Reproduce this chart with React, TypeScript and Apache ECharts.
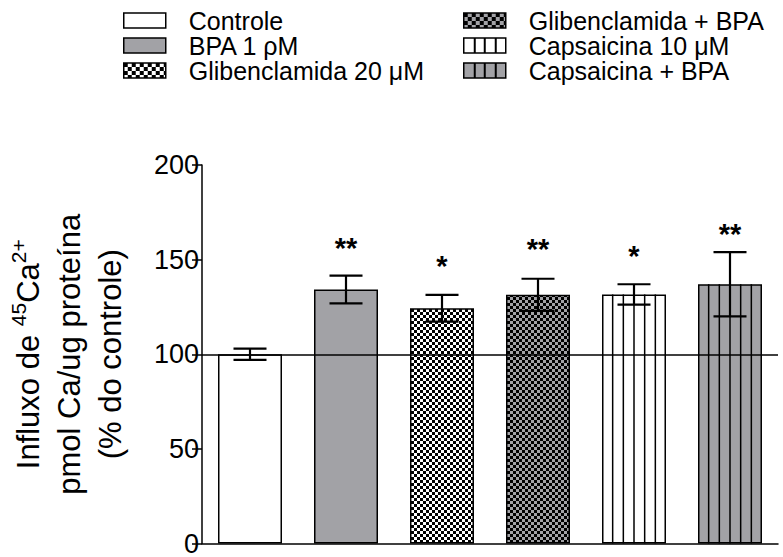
import React, { useEffect, useRef } from "react";
import * as echarts from "echarts";

// ---- data ----
const categories = [
  "Controle",
  "BPA 1 ρM",
  "Glibenclamida 20 μM",
  "Glibenclamida + BPA",
  "Capsaicina 10 μM",
  "Capsaicina + BPA",
];
const means = [100, 134.2, 124.3, 131.4, 131.6, 137];
const errors = [3, 7.3, 7.1, 8.5, 5.4, 17];
const significance = ["", "**", "*", "**", "*", "**"];
const sigLevels = [0, 160, 150.5, 159.5, 155.5, 167.5];
const yMin = 0;
const yMax = 200;
const yInterval = 50;
const referenceValue = 100;

const FONT = '"Liberation Sans", Arial, Helvetica, sans-serif';
const GRAY = "#a2a2a6";

function makeCanvas(w: number, h: number, draw: (ctx: CanvasRenderingContext2D) => void) {
  const c = document.createElement("canvas");
  c.width = w;
  c.height = h;
  const ctx = c.getContext("2d")!;
  draw(ctx);
  return c;
}

function checker(a: string, b: string, cell: number) {
  const c = makeCanvas(cell * 2, cell * 2, (ctx) => {
    ctx.fillStyle = a;
    ctx.fillRect(0, 0, cell * 2, cell * 2);
    ctx.fillStyle = b;
    ctx.fillRect(0, 0, cell, cell);
    ctx.fillRect(cell, cell, cell, cell);
  });
  return { image: c, repeat: "repeat", imageWidth: cell * 2, imageHeight: cell * 2 } as any;
}

function legendStripes(bg: string, w: number, n: number) {
  const c = makeCanvas(w, 4, (ctx) => {
    ctx.fillStyle = bg;
    ctx.fillRect(0, 0, w, 4);
    ctx.fillStyle = "#000";
    for (let k = 1; k < n; k++) {
      const x = Math.round((k * w) / n);
      ctx.fillRect(x - 1, 0, 2, 4);
    }
  });
  return { image: c, repeat: "repeat", imageWidth: w, imageHeight: 4 } as any;
}

export default function App() {
  const ref = useRef<HTMLDivElement>(null);

  useEffect(() => {
    if (!ref.current) return;
    const chart = echarts.init(ref.current, undefined, { renderer: "svg" });

    const barFills: any[] = [
      "#ffffff",
      GRAY,
      checker("#ffffff", "#000000", 3),
      checker(GRAY, "#000000", 3),
      "#ffffff",
      GRAY,
    ];
    const legendFills: any[] = [
      "#ffffff",
      GRAY,
      checker("#ffffff", "#000000", 4),
      checker(GRAY, "#000000", 4),
      legendStripes("#ffffff", 42, 4),
      legendStripes(GRAY, 42, 4),
    ];
    const striped = [false, false, false, false, true, true];
    const BAR_W = 64;

    const legendBase = {
      orient: "vertical",
      top: 8,
      padding: 0,
      itemWidth: 42,
      itemHeight: 15,
      itemGap: 0,
      icon: "rect",
      selectedMode: false,
      itemStyle: { borderColor: "#000", borderWidth: 1.5 },
      textStyle: {
        fontSize: 25,
        lineHeight: 25,
        color: "#000",
        fontFamily: FONT,
        padding: [0, 0, 0, 18],
      },
    };

    const barSeries = categories.map((name, i) => ({
      type: "bar",
      name,
      stack: "all",
      barWidth: BAR_W,
      data: means.map((v, j) => (j === i ? v : "-")),
      itemStyle: { color: barFills[i], borderColor: "#000", borderWidth: 1.5 },
      z: 2,
      ...(i === 0
        ? {
            markLine: {
              silent: true,
              symbol: ["none", "none"],
              label: { show: false },
              lineStyle: { color: "#000", width: 1.5, type: "solid" },
              data: [{ yAxis: referenceValue }],
            },
          }
        : {}),
    }));

    const overlay = {
      type: "custom",
      name: "overlay",
      z: 5,
      data: means.map((m, i) => [i, m, errors[i], sigLevels[i]]),
      renderItem: (params: any, api: any) => {
        const i = api.value(0);
        const m = api.value(1);
        const e = api.value(2);
        const s = api.value(3);
        const [cx, yTop] = api.coord([i, m]);
        const y0 = api.coord([i, 0])[1];
        const yHi = api.coord([i, m + e])[1];
        const yLo = api.coord([i, m - e])[1];
        const children: any[] = [];
        const stroke = { stroke: "#000", lineWidth: 1.5 };
        if (striped[i]) {
          for (let k = 1; k < 6; k++) {
            const x = cx - BAR_W / 2 + (k * BAR_W) / 6;
            children.push({ type: "line", shape: { x1: x, y1: yTop, x2: x, y2: y0 }, style: stroke });
          }
        }
        const eb = { stroke: "#000", lineWidth: 2.2 };
        const cap = 16.5;
        children.push({ type: "line", shape: { x1: cx, y1: yLo, x2: cx, y2: yHi }, style: eb });
        children.push({ type: "line", shape: { x1: cx - cap, y1: yHi, x2: cx + cap, y2: yHi }, style: eb });
        children.push({ type: "line", shape: { x1: cx - cap, y1: yLo, x2: cx + cap, y2: yLo }, style: eb });
        if (significance[i]) {
          const ys = api.coord([i, s])[1];
          children.push({
            type: "text",
            x: cx,
            y: ys + 7,
            style: {
              text: significance[i],
              align: "center",
              verticalAlign: "middle",
              fontSize: 29,
              fontWeight: "bold",
              fontFamily: FONT,
              fill: "#000",
            },
          });
        }
        return { type: "group", children };
      },
    };

    chart.setOption({
      animation: false,
      backgroundColor: "#ffffff",
      grid: { left: 202, right: 5, top: 165, bottom: 9, containLabel: false },
      legend: [
        {
          ...legendBase,
          left: 123,
          data: [0, 1, 2].map((i) => ({ name: categories[i], itemStyle: { color: legendFills[i] } })),
        },
        {
          ...legendBase,
          left: 463,
          data: [3, 4, 5].map((i) => ({ name: categories[i], itemStyle: { color: legendFills[i] } })),
        },
      ],
      xAxis: {
        type: "category",
        data: categories,
        axisLine: { show: true, lineStyle: { color: "#000", width: 1.5 } },
        axisTick: { show: false },
        axisLabel: { show: false },
        splitLine: { show: false },
      },
      yAxis: {
        type: "value",
        min: yMin,
        max: yMax,
        interval: yInterval,
        axisLine: { show: true, lineStyle: { color: "#000", width: 1.5 } },
        axisTick: { show: true, length: 10, lineStyle: { color: "#000", width: 1.5 } },
        axisLabel: { fontSize: 27, lineHeight: 18, color: "#000", fontFamily: FONT, margin: 3 },
        splitLine: { show: false },
        name: "Influxo de {sup|45}Ca{sup|2+}\npmol Ca/ug proteína\n(% do controle)",
        nameLocation: "middle",
        nameRotate: 90,
        nameGap: 71,
        nameTextStyle: {
          fontSize: 31,
          lineHeight: 41,
          color: "#000",
          fontFamily: FONT,
          rich: {
            sup: { fontSize: 21, lineHeight: 21, verticalAlign: "top", fontFamily: FONT, color: "#000" },
          },
        },
      },
      series: [...barSeries, overlay],
    } as any);

    return () => chart.dispose();
  }, []);

  return (
    <div
      ref={ref}
      style={{ position: "absolute", left: 0, top: 0, width: 783, height: 557, background: "#fff" }}
    />
  );
}
